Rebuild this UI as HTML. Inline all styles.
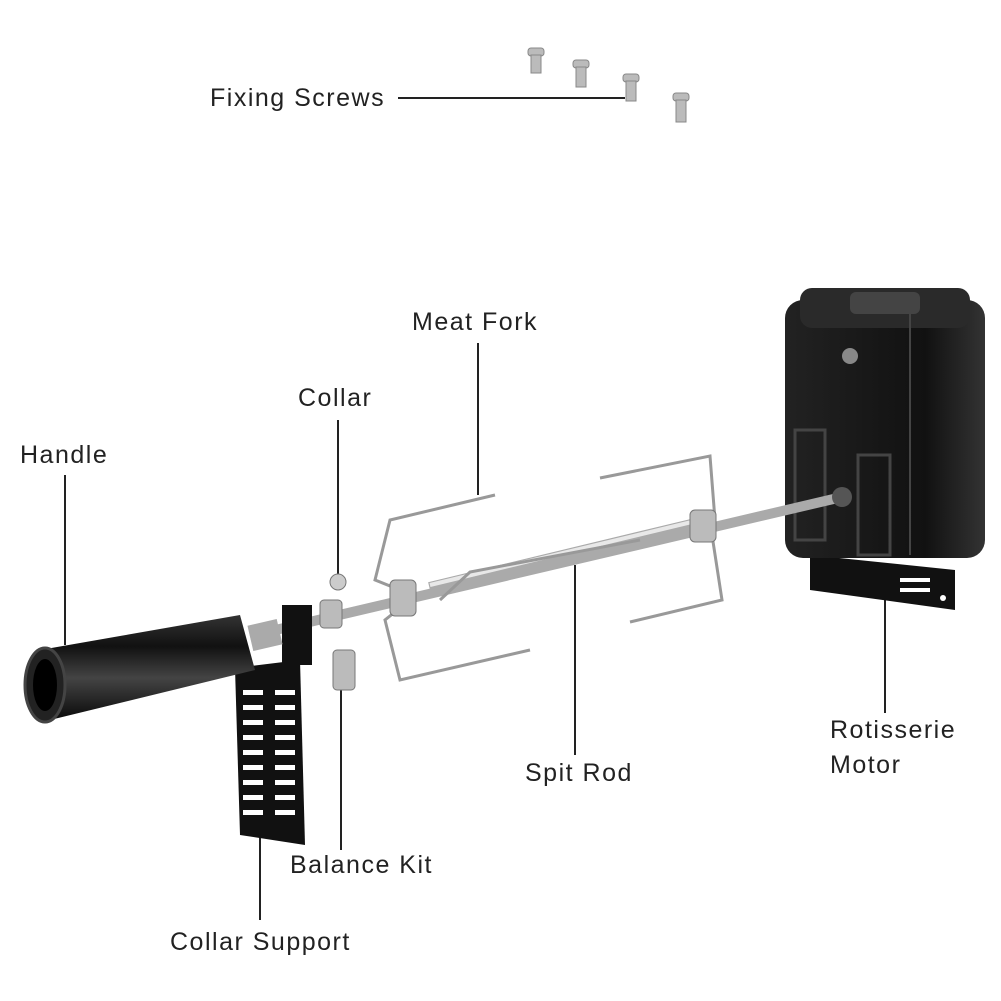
<!DOCTYPE html>
<html><head><meta charset="utf-8"><style>
html,body{margin:0;padding:0;background:#fff;}
svg{display:block}
text{font-family:"Liberation Sans",sans-serif;font-size:25px;letter-spacing:1.5px;fill:#222}
</style></head><body>
<svg width="1001" height="1001" viewBox="0 0 1001 1001" xmlns="http://www.w3.org/2000/svg">
<defs>
<linearGradient id="steel" x1="0" y1="0" x2="0" y2="1">
<stop offset="0" stop-color="#eee"/><stop offset="0.5" stop-color="#999"/><stop offset="1" stop-color="#ddd"/></linearGradient>
<linearGradient id="blk" x1="0" y1="0" x2="0" y2="1">
<stop offset="0" stop-color="#333"/><stop offset="0.3" stop-color="#111"/><stop offset="0.6" stop-color="#444"/><stop offset="1" stop-color="#0a0a0a"/></linearGradient>
<linearGradient id="box" x1="0" y1="0" x2="1" y2="0">
<stop offset="0" stop-color="#222"/><stop offset="0.7" stop-color="#111"/><stop offset="1" stop-color="#333"/></linearGradient>
</defs>
<rect width="1001" height="1001" fill="#fff"/>

<g fill="#bbb" stroke="#888" stroke-width="1">
<rect x="528" y="48" width="16" height="8" rx="3"/><rect x="531" y="55" width="10" height="18"/>
<rect x="573" y="60" width="16" height="8" rx="3"/><rect x="576" y="67" width="10" height="20"/>
<rect x="623" y="74" width="16" height="8" rx="3"/><rect x="626" y="81" width="10" height="20"/>
<rect x="673" y="93" width="16" height="8" rx="3"/><rect x="676" y="100" width="10" height="22"/>
</g>

<g stroke="#222" stroke-width="2">
<line x1="398" y1="98" x2="625" y2="98"/>
<line x1="478" y1="343" x2="478" y2="495"/>
<line x1="338" y1="420" x2="338" y2="575"/>
<line x1="65" y1="475" x2="65" y2="645"/>
<line x1="575" y1="565" x2="575" y2="755"/>
<line x1="885" y1="585" x2="885" y2="713"/>
<line x1="341" y1="690" x2="341" y2="850"/>
<line x1="260" y1="810" x2="260" y2="920"/>
</g>
<text x="210" y="106">Fixing Screws</text>
<text x="412" y="330">Meat Fork</text>
<text x="298" y="406">Collar</text>
<text x="20" y="463">Handle</text>
<text x="525" y="781">Spit Rod</text>
<text x="830" y="738">Rotisserie</text>
<text x="830" y="773">Motor</text>
<text x="290" y="873">Balance Kit</text>
<text x="170" y="950">Collar Support</text>

<polygon points="810,555 955,570 955,610 810,590" fill="#111"/>
<g fill="#fff"><rect x="900" y="578" width="30" height="4"/><rect x="900" y="588" width="30" height="4"/><circle cx="943" cy="598" r="3"/></g>
<rect x="785" y="300" width="200" height="258" rx="18" fill="url(#box)"/>
<rect x="800" y="288" width="170" height="40" rx="12" fill="#2a2a2a"/>
<rect x="850" y="292" width="70" height="22" rx="6" fill="#444"/>
<circle cx="850" cy="356" r="8" fill="#888"/>
<line x1="910" y1="310" x2="910" y2="555" stroke="#444" stroke-width="2"/>
<rect x="795" y="430" width="30" height="110" fill="none" stroke="#444" stroke-width="3"/>
<rect x="858" y="455" width="32" height="100" fill="none" stroke="#444" stroke-width="3"/>

<line x1="250" y1="636" x2="842" y2="497" stroke="#aaa" stroke-width="10"/>
<line x1="430" y1="590" x2="700" y2="525" stroke="#aaa" stroke-width="16"/>
<line x1="430" y1="585" x2="700" y2="520" stroke="#e8e8e8" stroke-width="4"/>
<circle cx="842" cy="497" r="10" fill="#555"/>

<g fill="none" stroke="#999" stroke-width="3">
<polyline points="495,495 390,520 375,580 400,590"/>
<polyline points="530,650 400,680 385,620 410,600"/>
<polyline points="440,600 470,572 640,540"/>
<polyline points="600,478 710,456 715,520"/>
<polyline points="630,622 722,600 712,535"/>
</g>
<rect x="390" y="580" width="26" height="36" rx="5" fill="#bbb" stroke="#777"/>
<rect x="690" y="510" width="26" height="32" rx="5" fill="#bbb" stroke="#777"/>

<polygon points="235,668 300,660 305,845 240,835" fill="#111"/>
<g fill="#fff">
<rect x="243" y="690" width="20" height="5"/><rect x="243" y="705" width="20" height="5"/><rect x="243" y="720" width="20" height="5"/><rect x="243" y="735" width="20" height="5"/><rect x="243" y="750" width="20" height="5"/><rect x="243" y="765" width="20" height="5"/><rect x="243" y="780" width="20" height="5"/><rect x="243" y="795" width="20" height="5"/><rect x="243" y="810" width="20" height="5"/>
<rect x="275" y="690" width="20" height="5"/><rect x="275" y="705" width="20" height="5"/><rect x="275" y="720" width="20" height="5"/><rect x="275" y="735" width="20" height="5"/><rect x="275" y="750" width="20" height="5"/><rect x="275" y="765" width="20" height="5"/><rect x="275" y="780" width="20" height="5"/><rect x="275" y="795" width="20" height="5"/><rect x="275" y="810" width="20" height="5"/>
</g>
<rect x="282" y="605" width="30" height="60" fill="#111"/>
<rect x="333" y="650" width="22" height="40" rx="4" fill="#bbb" stroke="#777"/>
<rect x="320" y="600" width="22" height="28" rx="4" fill="#bbb" stroke="#777"/>
<circle cx="338" cy="582" r="8" fill="#ccc" stroke="#777"/>

<polygon points="40,650 240,615 255,670 50,720" fill="url(#blk)"/>
<ellipse cx="45" cy="685" rx="20" ry="37" fill="#222" stroke="#444" stroke-width="3"/>
<ellipse cx="45" cy="685" rx="12" ry="26" fill="#000"/>
<rect x="250" y="622" width="30" height="26" fill="#aaa" transform="rotate(-13 265 635)"/>
</svg>
</body></html>
